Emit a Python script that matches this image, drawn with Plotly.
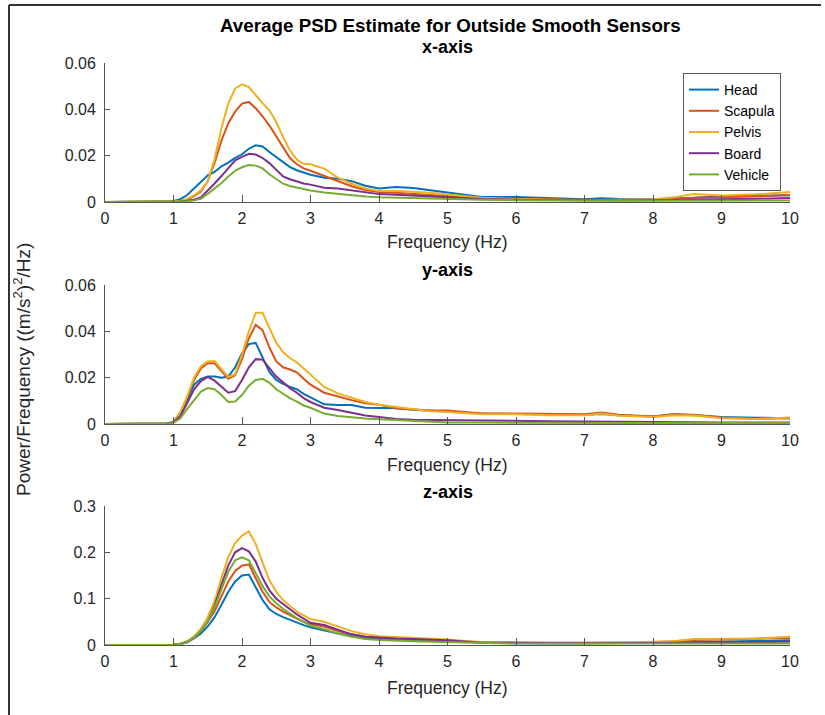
import plotly.graph_objects as go

freq = [0, 0.5, 0.9, 1.0, 1.1, 1.2, 1.3, 1.4, 1.5, 1.6, 1.7, 1.8, 1.9, 2.0, 2.1, 2.2, 2.3, 2.4, 2.5,
        2.6, 2.7, 2.8, 2.9, 3.0, 3.2, 3.4, 3.6, 3.8, 4.0, 4.25, 4.5, 4.75, 5.0, 5.5, 6.0, 6.5, 7.0,
        7.25, 7.5, 8.0, 8.3, 8.6, 9.0, 9.5, 10.0]

sensors = ["Head", "Scapula", "Pelvis", "Board", "Vehicle"]
colors = ["#0072BD", "#D95319", "#EDB120", "#7E2F8E", "#77AC30"]

# x-axis PSD
x_head = [0, 0, 0.0001, 0.0004, 0.0012, 0.003, 0.0058, 0.0085, 0.0115, 0.013, 0.0154, 0.017, 0.019, 0.0206, 0.023, 0.0245, 0.024, 0.0216, 0.0194, 0.0173, 0.0151, 0.0137, 0.0127, 0.0118, 0.0105, 0.01, 0.009, 0.007, 0.0058, 0.0065, 0.006, 0.005, 0.004, 0.0022, 0.0022, 0.0017, 0.0012, 0.0016, 0.0013, 0.0012, 0.0014, 0.0018, 0.0025, 0.0026, 0.0029]
x_scapula = [0, 0, 0, 0.0001, 0.0003, 0.001, 0.0025, 0.0045, 0.009, 0.017, 0.0265, 0.034, 0.039, 0.0425, 0.0432, 0.0405, 0.037, 0.033, 0.0285, 0.0235, 0.019, 0.0163, 0.0145, 0.0135, 0.0112, 0.0088, 0.0068, 0.0052, 0.0043, 0.004, 0.0035, 0.003, 0.0025, 0.0015, 0.0012, 0.001, 0.0008, 0.0008, 0.0009, 0.001, 0.0014, 0.0018, 0.002, 0.0025, 0.003]
x_pelvis = [0, 0, 0, 0.0002, 0.0005, 0.0013, 0.0029, 0.005, 0.009, 0.0185, 0.032, 0.0425, 0.049, 0.0508, 0.0496, 0.046, 0.0427, 0.0396, 0.0345, 0.028, 0.0223, 0.0183, 0.0165, 0.0163, 0.0144, 0.0105, 0.0079, 0.0058, 0.0047, 0.0048, 0.0045, 0.004, 0.0032, 0.0018, 0.0013, 0.001, 0.0008, 0.0009, 0.001, 0.0012, 0.002, 0.0035, 0.0028, 0.0033, 0.0043]
x_board = [0, 0, 0, 0, 0.0002, 0.0005, 0.001, 0.002, 0.0048, 0.008, 0.0112, 0.0148, 0.018, 0.0195, 0.0208, 0.0205, 0.019, 0.0168, 0.014, 0.011, 0.0098, 0.0088, 0.008, 0.0075, 0.0062, 0.0058, 0.005, 0.004, 0.0034, 0.0031, 0.0027, 0.0022, 0.0018, 0.0013, 0.001, 0.0008, 0.0007, 0.0007, 0.0007, 0.0008, 0.001, 0.0011, 0.0012, 0.0014, 0.0017]
x_vehicle = [0, 0, 0, 0, 0.0001, 0.0003, 0.0007, 0.0014, 0.0035, 0.0058, 0.0082, 0.011, 0.0135, 0.015, 0.016, 0.0157, 0.0145, 0.012, 0.0098, 0.0079, 0.0069, 0.0062, 0.0055, 0.005, 0.0041, 0.0035, 0.003, 0.0024, 0.0021, 0.0019, 0.0017, 0.0014, 0.0012, 0.001, 0.0008, 0.0006, 0.0005, 0.0005, 0.0005, 0.0005, 0.0005, 0.0006, 0.0006, 0.0007, 0.0007]

# y-axis PSD
y_head = [0, 0, 0.0002, 0.0008, 0.003, 0.0105, 0.017, 0.0195, 0.0205, 0.0205, 0.02, 0.0205, 0.0245, 0.0305, 0.0345, 0.035, 0.029, 0.0225, 0.019, 0.0173, 0.016, 0.015, 0.013, 0.0115, 0.0085, 0.0082, 0.0082, 0.007, 0.0068, 0.0068, 0.0062, 0.0057, 0.0055, 0.0045, 0.0043, 0.0042, 0.004, 0.0043, 0.0038, 0.0032, 0.0042, 0.0038, 0.003, 0.0027, 0.0025]
y_scapula = [0, 0, 0.0002, 0.0008, 0.005, 0.0115, 0.019, 0.024, 0.0262, 0.0262, 0.0228, 0.0195, 0.021, 0.028, 0.037, 0.0428, 0.0405, 0.033, 0.027, 0.0245, 0.0235, 0.0223, 0.0195, 0.017, 0.0135, 0.0118, 0.0103, 0.009, 0.0083, 0.0068, 0.0062, 0.0058, 0.0058, 0.0045, 0.0045, 0.0045, 0.0042, 0.005, 0.004, 0.0032, 0.0042, 0.004, 0.0028, 0.0022, 0.0025]
y_pelvis = [0, 0, 0.0002, 0.0008, 0.005, 0.012, 0.02, 0.025, 0.027, 0.0272, 0.0235, 0.0203, 0.0215, 0.03, 0.04, 0.048, 0.048, 0.0415, 0.035, 0.031, 0.0285, 0.0266, 0.024, 0.021, 0.016, 0.0132, 0.0115, 0.0095, 0.0083, 0.0073, 0.0063, 0.0055, 0.0052, 0.0042, 0.0042, 0.0038, 0.0038, 0.0045, 0.0036, 0.003, 0.0038, 0.0037, 0.0025, 0.0022, 0.0028]
y_board = [0, 0, 0.0002, 0.0008, 0.0035, 0.009, 0.015, 0.0185, 0.0203, 0.0187, 0.016, 0.0135, 0.0142, 0.019, 0.0245, 0.028, 0.0278, 0.024, 0.0205, 0.018, 0.0155, 0.0135, 0.0112, 0.0095, 0.007, 0.006, 0.0048, 0.0037, 0.003, 0.0022, 0.0018, 0.0017, 0.0016, 0.0013, 0.0013, 0.0012, 0.0011, 0.0011, 0.001, 0.0008, 0.0008, 0.0008, 0.0007, 0.0007, 0.0007]
y_vehicle = [0, 0, 0.0001, 0.0005, 0.0025, 0.0065, 0.0105, 0.014, 0.0155, 0.015, 0.0125, 0.0095, 0.0097, 0.0125, 0.0165, 0.019, 0.0195, 0.0178, 0.015, 0.013, 0.0112, 0.0097, 0.008, 0.007, 0.0045, 0.0035, 0.0028, 0.0024, 0.002, 0.0016, 0.0013, 0.001, 0.0007, 0.0006, 0.0005, 0.0005, 0.0004, 0.0004, 0.0004, 0.0004, 0.0004, 0.0004, 0.0004, 0.0004, 0.0004]

# z-axis PSD
z_head = [0, 0, 0, 0.0005, 0.002, 0.006, 0.014, 0.025, 0.04, 0.06, 0.087, 0.115, 0.137, 0.15, 0.152, 0.124, 0.097, 0.077, 0.067, 0.06, 0.054, 0.048, 0.043, 0.038, 0.031, 0.025, 0.02, 0.015, 0.013, 0.011, 0.01, 0.009, 0.008, 0.005, 0.004, 0.004, 0.004, 0.004, 0.004, 0.004, 0.005, 0.006, 0.007, 0.008, 0.01]
z_scapula = [0, 0, 0, 0.0005, 0.002, 0.007, 0.016, 0.03, 0.05, 0.073, 0.105, 0.137, 0.16, 0.171, 0.174, 0.145, 0.115, 0.093, 0.081, 0.072, 0.064, 0.057, 0.05, 0.045, 0.04, 0.03, 0.023, 0.018, 0.016, 0.014, 0.013, 0.011, 0.009, 0.006, 0.005, 0.005, 0.005, 0.005, 0.005, 0.006, 0.008, 0.011, 0.012, 0.013, 0.015]
z_pelvis = [0, 0, 0, 0.0005, 0.003, 0.008, 0.018, 0.035, 0.06, 0.095, 0.145, 0.19, 0.22, 0.236, 0.245, 0.218, 0.178, 0.14, 0.115, 0.097, 0.084, 0.072, 0.064, 0.056, 0.05, 0.04, 0.03, 0.023, 0.019, 0.017, 0.015, 0.014, 0.012, 0.006, 0.006, 0.005, 0.005, 0.005, 0.005, 0.007, 0.008, 0.013, 0.013, 0.014, 0.018]
z_board = [0, 0, 0, 0.0005, 0.002, 0.007, 0.016, 0.03, 0.05, 0.085, 0.13, 0.172, 0.2, 0.209, 0.202, 0.18, 0.145, 0.118, 0.1, 0.088, 0.077, 0.066, 0.057, 0.048, 0.043, 0.033, 0.023, 0.018, 0.016, 0.014, 0.013, 0.012, 0.01, 0.005, 0.004, 0.004, 0.004, 0.004, 0.004, 0.004, 0.005, 0.006, 0.006, 0.007, 0.007]
z_vehicle = [0, 0, 0, 0.0005, 0.002, 0.007, 0.016, 0.03, 0.05, 0.082, 0.12, 0.158, 0.183, 0.189, 0.183, 0.155, 0.127, 0.105, 0.09, 0.078, 0.068, 0.058, 0.05, 0.042, 0.034, 0.025, 0.018, 0.013, 0.011, 0.009, 0.008, 0.007, 0.006, 0.004, 0.003, 0.003, 0.003, 0.003, 0.003, 0.003, 0.003, 0.003, 0.003, 0.003, 0.003]

panels = [
    ("x", "y", [x_head, x_scapula, x_pelvis, x_board, x_vehicle]),
    ("x2", "y2", [y_head, y_scapula, y_pelvis, y_board, y_vehicle]),
    ("x3", "y3", [z_head, z_scapula, z_pelvis, z_board, z_vehicle]),
]

FONT = "Liberation Sans, Arial, Helvetica, sans-serif"
AX = "#555555"
TXT = "#262626"

fig = go.Figure()
for pi, (xa, ya, series) in enumerate(panels):
    for name, col, vals in zip(sensors, colors, series):
        fig.add_trace(go.Scatter(
            x=freq, y=vals, mode="lines", name=name,
            line=dict(color=col, width=2),
            xaxis=xa, yaxis=ya, showlegend=(pi == 0),
            cliponaxis=False,
        ))

H = 715.0
def py(p):
    return (H - p) / H

ydomains = [(py(202), py(63)), (py(424), py(285)), (py(645), py(506))]
yranges = [[0, 0.06], [0, 0.06], [0, 0.3]]
ytickvals = [[0, 0.02, 0.04, 0.06], [0, 0.02, 0.04, 0.06], [0, 0.1, 0.2, 0.3]]
yticktext = [["0", "0.02", "0.04", "0.06"], ["0", "0.02", "0.04", "0.06"], ["0", "0.1", "0.2", "0.3"]]

layout = dict(
    width=825, height=715, autosize=False,
    margin=dict(l=105, r=35, t=0, b=0, pad=0),
    paper_bgcolor="white", plot_bgcolor="white",
    font=dict(family=FONT, size=16, color=TXT),
    showlegend=True,
    legend=dict(
        x=(683 - 105) / 685, y=py(73), xanchor="left", yanchor="top",
        bordercolor="#555555", borderwidth=1, bgcolor="white",
        font=dict(family=FONT, size=14, color="#000000"),
        itemwidth=30, tracegroupgap=0,
    ),
)
for i in range(3):
    sx = "" if i == 0 else str(i + 1)
    layout["xaxis" + sx] = dict(
        domain=[0, 1], range=[0, 10], anchor="y" + sx,
        tickmode="array", tickvals=list(range(11)), ticktext=[str(v) for v in range(11)],
        ticks="inside", ticklen=7, tickcolor=AX, tickwidth=1,
        showline=True, linecolor=AX, linewidth=1, showgrid=False, zeroline=False,
        tickfont=dict(family=FONT, size=16, color=TXT),
        ticklabelstandoff=2, automargin=False,
    )
    layout["yaxis" + sx] = dict(
        domain=list(ydomains[i]), range=yranges[i], anchor="x" + sx,
        tickmode="array", tickvals=ytickvals[i], ticktext=yticktext[i],
        ticks="inside", ticklen=5, tickcolor=AX, tickwidth=1,
        showline=True, linecolor=AX, linewidth=1, showgrid=False, zeroline=False,
        tickfont=dict(family=FONT, size=16, color=TXT),
        ticklabelstandoff=5, automargin=False,
    )
fig.update_layout(**layout)

def ann(text, xp, ypx, size, bold=False, angle=0):
    fig.add_annotation(
        text=("<b>%s</b>" % text) if bold else text,
        x=(xp - 105) / 685, y=py(ypx), xref="paper", yref="paper",
        xanchor="center", yanchor="middle", showarrow=False, textangle=angle,
        font=dict(family=FONT, size=size, color="#000000" if bold else TXT),
    )

ann("Average PSD Estimate for Outside Smooth Sensors", 450, 25, 18.8, bold=True)
ann("x-axis", 447.5, 47, 18, bold=True)
ann("y-axis", 447.5, 270, 18, bold=True)
ann("z-axis", 447.5, 492, 18, bold=True)
for yy in (242, 465, 688):
    ann("Frequency (Hz)", 447.5, yy, 17.5)
ann("Power/Frequency ((m/s<sup>2</sup>)<sup>2</sup>/Hz)", 22, 370, 19, angle=-90)

# outer frame lines (top and left)
fig.add_shape(type="line", xref="paper", yref="paper",
              x0=(9 - 105) / 685, x1=(821 - 105) / 685, y0=py(5), y1=py(5),
              line=dict(color="#333333", width=2))
fig.add_shape(type="line", xref="paper", yref="paper",
              x0=(9 - 105) / 685, x1=(9 - 105) / 685, y0=py(5), y1=py(715),
              line=dict(color="#333333", width=2))

fig.write_html(
    "out.html",
    config={"responsive": False, "displayModeBar": False},
    post_script="document.body.style.margin='0';document.body.style.padding='0';document.body.style.overflow='hidden';",
)
